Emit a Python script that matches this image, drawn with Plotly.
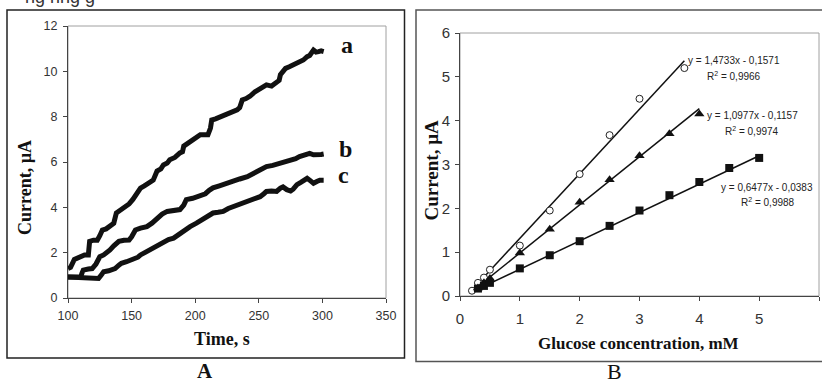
import plotly.graph_objects as go

# ---------------- data ----------------
# Panel A: current (uA) vs time (s), pairs
curve_a = [(100,1.3),(102,1.35),(105,1.7),(107,1.75),(110,1.85),(113,1.9),(116,1.9),(117,2.5),
           (120,2.55),(123,2.55),(125,2.75),(127,3.0),(130,3.05),(133,3.15),(136,3.3),(138,3.75),
           (142,3.9),(145,4.05),(148,4.15),(151,4.35),(154,4.6),(157,4.85),(160,4.95),(163,5.05),
           (167,5.2),(170,5.6),(173,5.7),(175,5.87),(178,5.95),(180,6.1),(184,6.2),(188,6.4),
           (190,6.45),(191,6.7),(195,6.85),(199,7.0),(202,7.1),(204,7.2),(207,7.2),(210,7.2),
           (212,7.5),(213,7.85),(216,7.9),(220,8.0),(224,8.05),(227,8.15),(230,8.2),(233,8.3),
           (235,8.4),(237,8.74),(240,8.8),(243,8.9),(247,9.1),(251,9.25),(254,9.3),(256,9.4),
           (260,9.35),(264,9.54),(266,9.6),(267,9.85),(269,10.0),(271,10.13),(274,10.2),(277,10.28),
           (280,10.4),(282,10.43),(285,10.5),(288,10.65),(290,10.7),(293,10.94),(295,10.85),
           (297,10.87),(299,10.9),(301,10.87)]
curve_b = [(100,0.93),(105,0.95),(110,0.93),(111,1.1),(112,1.23),(116,1.28),(119,1.3),(122,1.5),
           (125,1.82),(128,1.9),(131,2.0),(133,2.12),(136,2.3),(140,2.5),(144,2.55),(148,2.56),
           (150,2.7),(153,3.0),(157,3.08),(162,3.15),(166,3.3),(170,3.53),(174,3.7),(178,3.82),
           (183,3.85),(188,3.9),(191,4.1),(193,4.34),(198,4.4),(204,4.49),(208,4.6),(211,4.75),
           (214,4.86),(219,4.95),(225,5.08),(230,5.13),(235,5.25),(241,5.35),(246,5.5),(251,5.65),
           (256,5.8),(261,5.85),(267,5.94),(271,6.0),(275,6.1),(279,6.15),(282,6.24),(286,6.3),
           (290,6.38),(293,6.32),(296,6.3),(299,6.33),(301,6.35)]
curve_c = [(100,0.93),(105,0.92),(110,0.9),(115,0.88),(120,0.86),(124,0.86),(126,1.0),(128,1.16),
           (132,1.2),(137,1.3),(140,1.45),(142,1.53),(146,1.6),(150,1.68),(152,1.7),(155,1.8),
           (157,1.9),(162,2.05),(167,2.2),(171,2.35),(175,2.5),(179,2.58),(183,2.64),(187,2.8),
           (192,3.04),(196,3.15),(201,3.3),(205,3.45),(209,3.6),(214,3.75),(218,3.78),(222,3.82),
           (226,3.95),(230,4.04),(236,4.15),(241,4.27),(245,4.35),(248,4.41),(251,4.47),(254,4.6),
           (256,4.7),(260,4.72),(264,4.7),(267,4.85),(269,4.9),(272,4.78),(275,4.72),(277,4.8),
           (280,5.0),(283,5.1),(285,5.15),(288,5.28),(290,5.2),(293,5.06),(296,5.15),(298,5.2),
           (301,5.2)]
curve_labels = ["a", "b", "c"]

# Panel B: current (uA) vs glucose concentration (mM)
circ_x = [0.2, 0.3, 0.4, 0.5, 1.0, 1.5, 2.0, 2.5, 3.0, 3.75]
circ_y = [0.12, 0.3, 0.42, 0.6, 1.15, 1.95, 2.78, 3.67, 4.5, 5.2]
tri_x = [0.3, 0.4, 0.5, 1.0, 1.5, 2.0, 2.5, 3.0, 3.5, 4.0]
tri_y = [0.18, 0.3, 0.4, 0.98, 1.52, 2.14, 2.65, 3.2, 3.7, 4.15]
sq_x = [0.3, 0.4, 0.5, 1.0, 1.5, 2.0, 2.5, 3.0, 3.5, 4.0, 4.5, 5.0]
sq_y = [0.17, 0.23, 0.3, 0.63, 0.93, 1.25, 1.6, 1.95, 2.3, 2.6, 2.92, 3.15]
slopes = [1.4733, 1.0977, 0.6477]
intercepts = [-0.1571, -0.1157, -0.0383]
eq_texts = ["y = 1,4733x - 0,1571", "y = 1,0977x - 0,1157", "y = 0,6477x - 0,0383"]
r2_texts = ["R<sup>2</sup> = 0,9966", "R<sup>2</sup> = 0,9974", "R<sup>2</sup> = 0,9988"]

# ---------------- layout helpers ----------------
W, H = 822, 385
def px(x): return x / W
def py(y): return 1 - y / H

SERIF = "Liberation Serif, Times New Roman, serif"
SANS = "Liberation Sans, Arial, sans-serif"

fig = go.Figure()

# Panel A curves
for cv in (curve_a, curve_b, curve_c):
    fig.add_trace(go.Scatter(x=[p[0] for p in cv], y=[p[1] for p in cv], mode="lines",
                             line=dict(color="#111", width=5), xaxis="x", yaxis="y",
                             showlegend=False, hoverinfo="skip"))

# Panel B trendlines
series_b = [(circ_x, circ_y), (tri_x, tri_y), (sq_x, sq_y)]
for (sx, sy), m, b in zip(series_b, slopes, intercepts):
    xs = [min(sx), max(sx)]
    fig.add_trace(go.Scatter(x=xs, y=[m * v + b for v in xs], mode="lines",
                             line=dict(color="#111", width=1.5), xaxis="x2", yaxis="y2",
                             showlegend=False, hoverinfo="skip"))

fig.add_trace(go.Scatter(x=circ_x, y=circ_y, mode="markers", xaxis="x2", yaxis="y2",
                         marker=dict(symbol="circle", size=7, color="white",
                                     line=dict(color="#222", width=1)), showlegend=False))
fig.add_trace(go.Scatter(x=tri_x, y=tri_y, mode="markers", xaxis="x2", yaxis="y2",
                         marker=dict(symbol="triangle-up", size=9, color="#111",
                                     line=dict(width=0)), showlegend=False))
fig.add_trace(go.Scatter(x=sq_x, y=sq_y, mode="markers", xaxis="x2", yaxis="y2",
                         marker=dict(symbol="square", size=8, color="#111",
                                     line=dict(width=0)), showlegend=False))

axis_common = dict(showline=True, linecolor="#444", linewidth=1, ticks="outside", ticklen=4,
                   tickcolor="#444", showgrid=False, zeroline=False, fixedrange=True,
                   automargin=False)

fig.update_layout(
    template="none",
    width=W, height=H, margin=dict(l=0, r=0, t=0, b=0, pad=0, autoexpand=False),
    paper_bgcolor="white", plot_bgcolor="white", showlegend=False,
    xaxis=dict(domain=[px(68), px(386)], range=[100, 350], tick0=100, dtick=50, anchor="y",
               tickfont=dict(family=SANS, size=12.5, color="#333"), ticklabelstandoff=2,
               **axis_common),
    yaxis=dict(domain=[py(298), py(26)], range=[0, 12], dtick=2, anchor="x",
               tickfont=dict(family=SANS, size=12.5, color="#333"), ticklabelstandoff=3,
               **axis_common),
    xaxis2=dict(domain=[px(460), px(819)], range=[0, 6], dtick=1, anchor="y2",
                tickfont=dict(family=SANS, size=15, color="#333"), ticklabelstandoff=5,
                **axis_common),
    yaxis2=dict(domain=[py(296), py(33)], range=[0, 6], dtick=1, anchor="x2",
                tickfont=dict(family=SANS, size=15, color="#333"), ticklabelstandoff=2,
                **axis_common),
)

shapes = [
    # outer frames
    dict(type="rect", xref="paper", yref="paper", x0=px(7), x1=px(404.5), y0=py(358), y1=py(10),
         line=dict(color="#222", width=1.5), fillcolor="rgba(0,0,0,0)", layer="below"),
    dict(type="rect", xref="paper", yref="paper", x0=px(416), x1=px(832), y0=py(361.5), y1=py(10),
         line=dict(color="#555", width=1.5), fillcolor="rgba(0,0,0,0)", layer="below"),
    # plot-area borders
    dict(type="rect", xref="x domain", yref="y domain", x0=0, x1=1, y0=0, y1=1,
         line=dict(color="#a0a0a0", width=1), layer="below"),
    dict(type="rect", xref="x2 domain", yref="y2 domain", x0=0, x1=1, y0=0, y1=1,
         line=dict(color="#a0a0a0", width=1), layer="below"),
]
fig.update_layout(shapes=shapes)

ann = []
def add(text, x, y, size, family, color="#111", angle=0, xanchor="center", yanchor="middle"):
    ann.append(dict(text=text, x=px(x), y=py(y), xref="paper", yref="paper", showarrow=False,
                    textangle=angle, xanchor=xanchor, yanchor=yanchor,
                    font=dict(family=family, size=size, color=color)))

# clipped caption remnant at very top
add("ng ring g", 23, -3, 18, SANS, color="#333", xanchor="left")

# Panel A texts
add("<b>Current, µA</b>", 25, 188, 18, SERIF, angle=-90)
add("<b>Time, s</b>", 222.5, 339, 18, SERIF)
for lab, (lx, ly) in zip(curve_labels, [(346.5, 45), (345.5, 149), (343, 175)]):
    add("<b>%s</b>" % lab, lx, ly, 24, SERIF)
add("<b>A</b>", 205, 371, 21, SERIF)

# Panel B texts
add("<b>Current, µA</b>", 431, 170.5, 19, SERIF, angle=-90)
add("<b>Glucose concentration, mM</b>", 638.5, 343, 17, SERIF)
add("B", 614, 371, 22, SERIF)
for t, (ex, ey) in zip(eq_texts, [(734, 60), (752, 115.5), (767, 187.5)]):
    add(t, ex, ey, 10, SANS, color="#222")
for t, (ex, ey) in zip(r2_texts, [(734, 75.5), (752, 131), (768, 201.5)]):
    add(t, ex, ey, 10, SANS, color="#222")

fig.update_layout(annotations=ann)
fig.write_html("out.html", config={"displayModeBar": False},
               post_script="document.body.style.margin='0';")
